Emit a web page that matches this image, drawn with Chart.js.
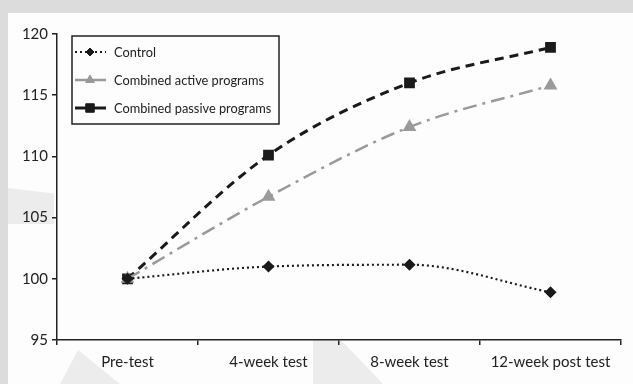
<!DOCTYPE html>
<html>
<head>
<meta charset="utf-8">
<script src="https://cdn.jsdelivr.net/npm/chart.js@4/dist/chart.umd.min.js"></script>
<style>
  html, body { margin: 0; padding: 0; }
  body { width: 633px; height: 384px; background: #dcdcdc; position: relative; overflow: hidden; }
  #panel { position: absolute; left: 8px; top: 13px; width: 625px; height: 371px; background: #fdfdfd; }
  .wm { position: absolute; background: #ececec; }
  #wrap { position: absolute; left: 0; top: 0; width: 633px; height: 384px; }
</style>
</head>
<body>
<div id="panel"></div>
<!-- faint watermark shapes -->
<div class="wm" style="left:8px;top:188px;width:46px;height:36px;clip-path:polygon(0 0,100% 15%,100% 100%,0 100%);"></div>
<div class="wm" style="left:60px;top:350px;width:60px;height:34px;clip-path:polygon(30% 0,100% 100%,0 100%);"></div>
<div class="wm" style="left:313px;top:340px;width:70px;height:44px;clip-path:polygon(0 0,40% 0,100% 100%,0 100%);"></div>
<div id="wrap"><canvas id="chart" width="633" height="384"></canvas></div>
<script>
// --- Data ---
const LABELS = ['Pre-test', '4-week test', '8-week test', '12-week post test'];
const CONTROL = [100, 101.0, 101.15, 98.9];
const ACTIVE = [100, 106.7, 112.4, 115.8];
const PASSIVE = [100, 110.1, 116.0, 118.9];
const Y_TICKS = [95, 100, 105, 110, 115, 120];

const FONT = 'Lato, "DejaVu Sans", sans-serif';

// --- Legend drawn inside the plot with a box around it ---
const boxLegend = {
  id: 'boxLegend',
  afterDraw(chart) {
    const ctx = chart.ctx;
    const x0 = 72, y0 = 36, w = 207, h = 88;
    ctx.save();
    ctx.fillStyle = '#fdfdfd';
    ctx.fillRect(x0, y0, w, h);
    ctx.strokeStyle = '#222';
    ctx.lineWidth = 1.5;
    ctx.strokeRect(x0, y0, w, h);
    ctx.font = '12.8px ' + FONT;
    ctx.textBaseline = 'middle';
    chart.data.datasets.forEach((ds, i) => {
      const y = 52 + i * 28;
      ctx.strokeStyle = ds.borderColor;
      ctx.lineWidth = ds.borderWidth;
      ctx.setLineDash(ds.legendDash);
      ctx.beginPath();
      ctx.moveTo(75, y);
      ctx.lineTo(106, y);
      ctx.stroke();
      ctx.setLineDash([]);
      ctx.fillStyle = ds.pointBackgroundColor;
      ctx.strokeStyle = ds.pointBorderColor;
      ctx.lineWidth = 1;
      Chart.helpers.drawPoint(ctx, {
        pointStyle: ds.pointStyle, radius: ds.legendRadius, rotation: 0, borderWidth: 1
      }, 90, y);
      ctx.fillStyle = '#222';
      ctx.fillText(ds.label, 114, y + 1);
    });
    ctx.restore();
  }
};

new Chart(document.getElementById('chart'), {
  type: 'line',
  data: {
    labels: LABELS,
    datasets: [
      {
        label: 'Control',
        data: CONTROL,
        borderColor: '#1a1a1a',
        borderWidth: 2.2,
        borderDash: [2, 3],
        legendDash: [2, 3],
        pointStyle: 'rectRot',
        pointRadius: 4.5,
        legendRadius: 4,
        pointBackgroundColor: '#1a1a1a',
        pointBorderColor: '#1a1a1a',
        cubicInterpolationMode: 'monotone'
      },
      {
        label: 'Combined active programs',
        data: ACTIVE,
        borderColor: '#9a9a9a',
        borderWidth: 2.5,
        borderDash: [14, 6, 3, 6],
        legendDash: [],
        pointStyle: 'triangle',
        pointRadius: 5.5,
        legendRadius: 5,
        pointBackgroundColor: '#9a9a9a',
        pointBorderColor: '#9a9a9a',
        cubicInterpolationMode: 'monotone'
      },
      {
        label: 'Combined passive programs',
        data: PASSIVE,
        borderColor: '#1a1a1a',
        borderWidth: 3,
        borderDash: [9, 6],
        legendDash: [],
        pointStyle: 'rect',
        pointRadius: 5.5,
        legendRadius: 6,
        pointBackgroundColor: '#1a1a1a',
        pointBorderColor: '#1a1a1a',
        cubicInterpolationMode: 'monotone'
      }
    ]
  },
  options: {
    responsive: false,
    animation: false,
    layout: { padding: { left: 0, right: 12, top: 34, bottom: 0 } },
    plugins: { legend: { display: false }, tooltip: { enabled: false } },
    scales: {
      x: {
        offset: true,
        grid: { offset: true, drawOnChartArea: false, drawTicks: true, tickLength: 5, color: '#222', lineWidth: 1.5 },
        border: { color: '#222', width: 1.5 },
        ticks: { color: '#222', font: { family: FONT, size: 15 }, padding: 8, maxRotation: 0 },
        afterFit(scale) { scale.height = 44; }
      },
      y: {
        min: 95,
        max: 120,
        afterBuildTicks(scale) { scale.ticks = Y_TICKS.map(v => ({ value: v })); },
        grid: { drawOnChartArea: false, drawTicks: true, tickLength: 5, color: '#222', lineWidth: 1.5 },
        border: { color: '#222', width: 1.5 },
        ticks: { color: '#222', font: { family: FONT, size: 15 }, padding: 4 },
        afterFit(scale) { scale.width = 57; }
      }
    }
  },
  plugins: [boxLegend]
});
</script>
</body>
</html>
